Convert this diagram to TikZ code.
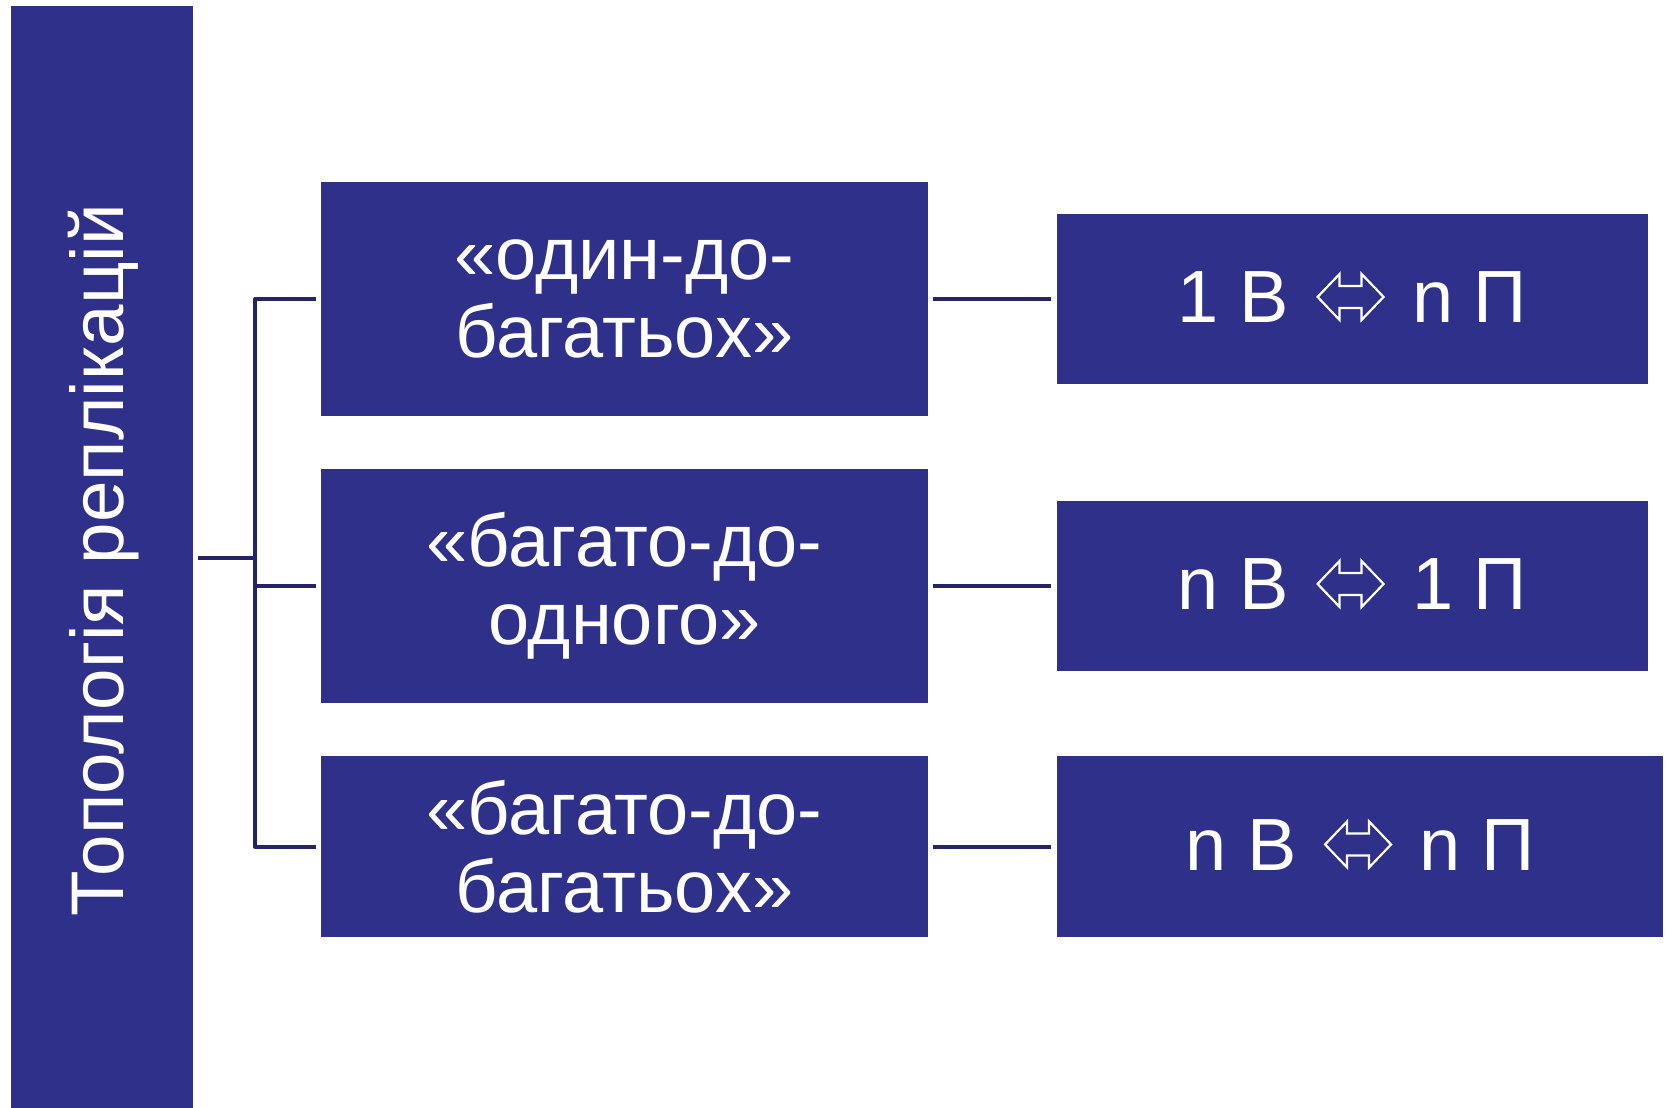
\documentclass[tikz,border=0pt]{standalone}
\usepackage{fontspec}
\setmainfont{Liberation Sans}
\definecolor{boxblue}{RGB}{46,48,138}
\definecolor{linkblue}{RGB}{36,36,104}
% outlined double-headed arrow used between the two counts
\newcommand\dblarrow{\hspace{3.5pt}\tikz[baseline={(0pt,-13pt)},x=1pt,y=1pt]
  \draw[white,line width=1.1pt,line join=miter,fill=boxblue]
  (0,0) -- (11,11.5) -- (11,5.5) -- (22,5.5) -- (22,11.5) -- (33,0)
  -- (22,-11.5) -- (22,-5.5) -- (11,-5.5) -- (11,-11.5) -- cycle;\hspace{3.5pt}}
\begin{document}
\begin{tikzpicture}[x=0.5pt,y=-0.5pt,
  panel/.style={fill=boxblue,draw=none,inner sep=0pt,text=white,align=center,
    font=\fontsize{37}{39}\selectfont},
  ratio/.style={panel,font=\fontsize{37}{40}\selectfont},
  link/.style={draw=linkblue,line width=2pt,line join=round}]
\useasboundingbox (0,0) rectangle (1667,1108);

% vertical title bar
\node[panel,minimum width=91pt,minimum height=551pt] (bar) at (102,557) {};
\node[text=white,rotate=90,font=\fontsize{37.3}{40}\selectfont] (title) at (104,560)
  {Топологія реплікацій};

% topology kinds
\node[panel,minimum width=303.5pt,minimum height=117pt] (m1) at (624.5,299)
  {«один-до-\\багатьох»};
\node[panel,minimum width=303.5pt,minimum height=117pt] (m2) at (624.5,586)
  {«багато-до-\\одного»};
\node[panel,minimum width=303.5pt,minimum height=90.5pt] (m3) at (624.5,846.5)
  {«багато-до-\\багатьох»};

% ratios of sources and replicas
\node[ratio,minimum width=295.5pt,minimum height=85pt] (r1) at (1352.5,299)
  {\raisebox{1.5pt}{1 В \dblarrow{} n П}};
\node[ratio,minimum width=295.5pt,minimum height=85pt] (r2) at (1352.5,586)
  {\raisebox{1.5pt}{n В \dblarrow{} 1 П}};
\node[ratio,minimum width=303pt,minimum height=90.5pt] (r3) at (1360,846.5)
  {\raisebox{1.5pt}{n В \dblarrow{} n П}};

% bracket joining the title to the kinds
\coordinate (j) at (255,558);
\draw[link,shorten <=2.5pt] (bar.east |- j) -- (j);
\draw[link,shorten <=2.5pt,shorten >=2.5pt] (m1.west) -| (j) |- (m3.west);
\draw[link,shorten >=2.5pt] (j |- m2.west) -- (m2.west);

% kinds to ratios
\draw[link,shorten <=2.5pt,shorten >=3pt] (m1.east) -- (r1.west);
\draw[link,shorten <=2.5pt,shorten >=3pt] (m2.east) -- (r2.west);
\draw[link,shorten <=2.5pt,shorten >=3pt] (m3.east) -- (r3.west);
\end{tikzpicture}
\end{document}
